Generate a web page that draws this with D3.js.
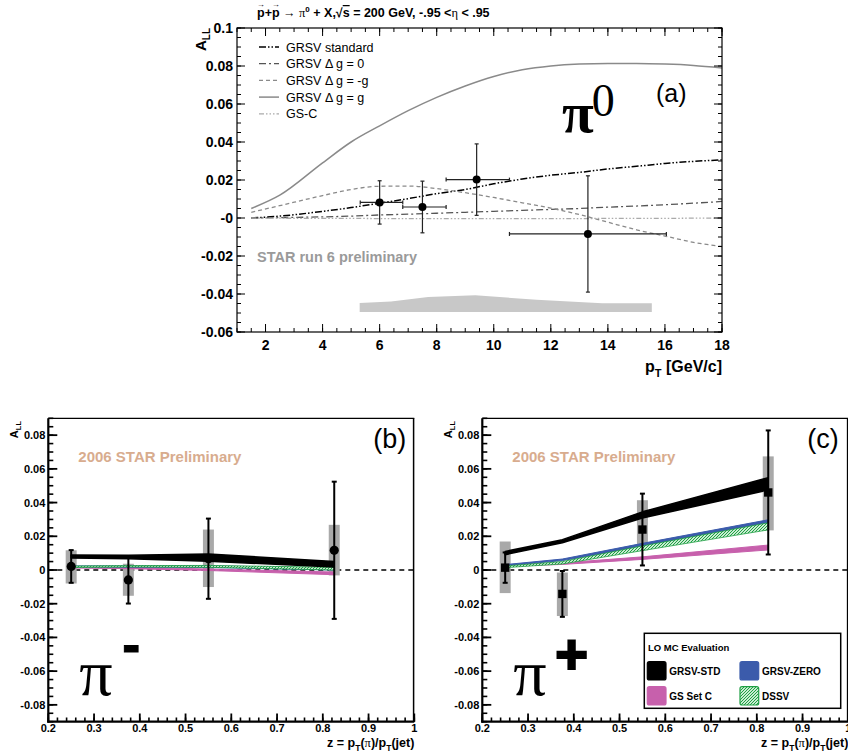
<!DOCTYPE html>
<html>
<head>
<meta charset="utf-8">
<script src="https://cdn.jsdelivr.net/npm/d3@7"></script>
<style>
  html, body { margin: 0; padding: 0; background: #fff; }
  svg { display: block; font-family: "Liberation Sans", Arial, Helvetica, sans-serif; }
</style>
</head>
<body>
<svg id="chart" width="848" height="754"></svg>
<script>
// ============================================================
// PANEL (a) - pi0 A_LL vs pT
// ============================================================
const piZeroPt = [1.5, 2.5, 4, 5, 6, 7, 8, 9, 10, 11, 12, 13, 14, 15, 16, 17, 18];
const grsvStd  = [0.0, 0.001, 0.0035, 0.0055, 0.0078, 0.0102, 0.0128, 0.015, 0.018, 0.0205, 0.0225, 0.024, 0.0258, 0.0272, 0.0287, 0.0298, 0.0306];
const grsvZero = [0.0, 0.0002, 0.0006, 0.001, 0.0016, 0.002, 0.0025, 0.003, 0.0035, 0.004, 0.0045, 0.005, 0.0057, 0.0063, 0.007, 0.0078, 0.0087];
const grsvNeg  = [0.003, 0.0065, 0.0118, 0.015, 0.0167, 0.0168, 0.0155, 0.0133, 0.0108, 0.008, 0.0052, 0.0018, -0.0022, -0.0062, -0.0095, -0.0128, -0.015];
const grsvPos  = [0.005, 0.012, 0.029, 0.040, 0.0485, 0.0565, 0.0635, 0.0695, 0.0745, 0.078, 0.080, 0.081, 0.0813, 0.0813, 0.081, 0.0803, 0.079];
const gsC      = [0.0, -0.0001, -0.0002, -0.0002, -0.0003, -0.0003, -0.0003, -0.0003, -0.0003, -0.0003, -0.0003, -0.0003, -0.0002, -0.0002, -0.0002, -0.0001, -0.0001];

const curveNames = ["GRSV standard", "GRSV \u0394 g = 0", "GRSV \u0394 g = -g", "GRSV \u0394 g = g", "GS-C"];

const piZeroBinPt  = [6.0, 7.5, 9.4, 13.3];
const piZeroBinLo  = [5.32, 6.81, 8.33, 10.55];
const piZeroBinHi  = [6.81, 8.33, 10.55, 16.05];
const piZeroAll    = [0.0082, 0.0058, 0.0202, -0.0084];
const piZeroStat   = [0.0114, 0.0136, 0.0188, 0.0306];

const sysBandPt  = [5.3, 6.4, 7.7, 9.35, 11.5, 13.8, 15.54];
const sysBandTop = [-0.0447, -0.0440, -0.0416, -0.0407, -0.0430, -0.0449, -0.0449];
const sysBandBottom = -0.0495;

const aYTicks  = [-0.06, -0.04, -0.02, 0, 0.02, 0.04, 0.06, 0.08, 0.1];
const aYLabels = ["-0.06", "-0.04", "-0.02", "-0", "0.02", "0.04", "0.06", "0.08", "0.1"];
const aXTicks  = [2, 4, 6, 8, 10, 12, 14, 16, 18];
const aXLabels = ["2", "4", "6", "8", "10", "12", "14", "16", "18"];

// ============================================================
// PANELS (b) pi- and (c) pi+ - A_LL vs z
// ============================================================
const zBins = [0.25, 0.375, 0.55, 0.825];

const minusAll   = [0.0021, -0.0059, 0.0067, 0.0117];
const minusStat  = [0.0097, 0.014, 0.0238, 0.0407];
const minusSysLo = [-0.008, -0.0153, -0.0101, -0.0032];
const minusSysHi = [0.0117, 0.0037, 0.024, 0.0268];
const minusStdLo  = [0.0071, 0.0067, 0.0052, 0.0018];
const minusStdHi  = [0.0089, 0.0088, 0.0095, 0.0050];
const minusZeroLo = [0.0017, 0.0017, 0.0015, 0.0];
const minusZeroHi = [0.0024, 0.0025, 0.0025, 0.0012];
const minusGscLo  = [0.0012, 0.0008, -0.0003, -0.0028];
const minusGscHi  = [0.0019, 0.0016, 0.0006, -0.0012];
const minusDssvLo = [0.0015, 0.0018, 0.0016, 0.0];
const minusDssvHi = [0.0023, 0.0026, 0.0027, 0.0016];

const plusAll   = [0.0014, -0.0142, 0.024, 0.046];
const plusStat  = [0.009, 0.0136, 0.0213, 0.0368];
const plusSysLo = [-0.0137, -0.0273, 0.0117, 0.0235];
const plusSysHi = [0.0169, -0.0015, 0.0414, 0.0674];
const plusStdLo  = [0.0091, 0.0162, 0.0308, 0.0475];
const plusStdHi  = [0.0110, 0.0180, 0.0345, 0.0548];
const plusZeroLo = [0.0025, 0.0056, 0.0136, 0.0262];
const plusZeroHi = [0.0032, 0.0065, 0.0158, 0.0298];
const plusGscLo  = [0.0022, 0.0033, 0.0063, 0.0119];
const plusGscHi  = [0.0030, 0.0042, 0.0078, 0.0148];
const plusDssvLo = [0.0014, 0.0036, 0.0115, 0.0238];
const plusDssvHi = [0.0024, 0.0050, 0.0143, 0.0280];

const zYTicks  = [-0.08, -0.06, -0.04, -0.02, 0, 0.02, 0.04, 0.06, 0.08];
const zYLabels = ["-0.08", "-0.06", "-0.04", "-0.02", "0", "0.02", "0.04", "0.06", "0.08"];
const zXTicks  = [0.2, 0.3, 0.4, 0.5, 0.6, 0.7, 0.8, 0.9, 1.0];
const zXLabels = ["0.2", "0.3", "0.4", "0.5", "0.6", "0.7", "0.8", "0.9", "1"];

const legendNames = ["GRSV-STD", "GRSV-ZERO", "GS Set C", "DSSV"];

// ============================================================
// SETUP
// ============================================================
const svg = d3.select("#chart");
const SERIF = "'Liberation Serif', 'Times New Roman', serif";
const ZCOL = { std: "#000000", zero: "#3b5bab", gsc: "#c760ac", dssv: "#1fa044" };

const defs = svg.append("defs");
const hatch = defs.append("pattern")
    .attr("id", "dssvHatch")
    .attr("patternUnits", "userSpaceOnUse")
    .attr("width", 3).attr("height", 3);
hatch.append("rect").attr("width", 3).attr("height", 3).attr("fill", "#c9ecd1");
hatch.append("path").attr("d", "M0,3 L3,0").attr("stroke", "#1fa044").attr("stroke-width", 1);

// helper: evenly spaced values without float drift
function steps(a, b, s) {
    const n = Math.round((b - a) / s);
    return d3.range(n + 1).map((i) => +(a + i * s).toFixed(6));
}

function tickLines(g, vals, fn, width) {
    g.append("g")
        .selectAll("line")
        .data(vals)
        .enter()
        .append("line")
        .each(function (d) {
            const c = fn(d);
            d3.select(this).attr("x1", c[0]).attr("y1", c[1]).attr("x2", c[2]).attr("y2", c[3]);
        })
        .attr("stroke", "#000")
        .attr("stroke-width", width);
}

// ============================================================
// PANEL (a)
// ============================================================
const xA = d3.scaleLinear().domain([1, 18]).range([237, 722]);
const yA = d3.scaleLinear().domain([-0.06, 0.1]).range([332, 28]);
const gA = svg.append("g");

// title (vector arrows over the two p's)
const title = gA.append("text")
    .attr("x", 257).attr("y", 17)
    .attr("font-size", 12.5).attr("font-weight", "bold");
title.append("tspan").text("p+p ");
title.append("tspan").attr("font-weight", "normal").text("\u2192 ");
title.append("tspan").attr("font-family", SERIF).attr("font-weight", "normal").text("\u03C0");
title.append("tspan").attr("font-size", 8).attr("dy", -5).text("0");
title.append("tspan").attr("dy", 5).text(" + X,\u221A");
title.append("tspan").style("text-decoration", "overline").text("s");
title.append("tspan").text(" = 200 GeV, -.95 <");
title.append("tspan").attr("font-family", SERIF).attr("font-weight", "normal").text("\u03B7");
title.append("tspan").text(" < .95");

[0, 2].forEach((ci) => {
    const s = title.node().getStartPositionOfChar(ci);
    const e = title.node().getEndPositionOfChar(ci);
    gA.append("text")
        .attr("x", (s.x + e.x) / 2).attr("y", 6.5)
        .attr("text-anchor", "middle")
        .attr("font-size", 8).attr("font-weight", "bold")
        .text("\u2192");
});

// systematic band
gA.append("path")
    .datum(sysBandPt.map((p, i) => [p, sysBandTop[i]]))
    .attr("fill", "#c8c8c8")
    .attr("d", d3.area()
        .x((d) => xA(d[0]))
        .y0(yA(sysBandBottom))
        .y1((d) => yA(d[1])));

gA.append("text")
    .attr("x", 257).attr("y", 262)
    .attr("font-size", 14.5).attr("font-weight", "bold")
    .attr("fill", "#9a9a9a")
    .text("STAR run 6 preliminary");

// theory curves
const curveStyles = [
    { vals: grsvStd,  stroke: "#000",    dash: "7,2,1.5,2,1.5,2", w: 1.5 },
    { vals: grsvZero, stroke: "#555",    dash: "7,3,2,3",         w: 1.3 },
    { vals: grsvNeg,  stroke: "#8a8a8a", dash: "4,3",             w: 1.3 },
    { vals: grsvPos,  stroke: "#8a8a8a", dash: null,              w: 1.5 },
    { vals: gsC,      stroke: "#aaaaaa", dash: "5,2,1.5,2,1.5,2,1.5,2", w: 1.3 },
];
const lineA = d3.line()
    .x((d) => xA(d[0]))
    .y((d) => yA(d[1]))
    .curve(d3.curveMonotoneX);
curveStyles.forEach((c) => {
    gA.append("path")
        .datum(piZeroPt.map((p, i) => [p, c.vals[i]]))
        .attr("fill", "none")
        .attr("stroke", c.stroke)
        .attr("stroke-width", c.w)
        .attr("stroke-dasharray", c.dash)
        .attr("d", lineA);
});

// legend
curveStyles.forEach((c, i) => {
    const ly = 47 + i * 16.7;
    gA.append("line")
        .attr("x1", 259).attr("x2", 279).attr("y1", ly).attr("y2", ly)
        .attr("stroke", c.stroke).attr("stroke-width", c.w)
        .attr("stroke-dasharray", c.dash);
    gA.append("text")
        .attr("x", 286).attr("y", ly + 4.5)
        .attr("font-size", 12.5)
        .text(curveNames[i]);
});

// data points
const ptsA = gA.append("g").attr("stroke", "#222").attr("stroke-width", 1.2);
piZeroBinPt.forEach((p, i) => {
    const cx = xA(p), cy = yA(piZeroAll[i]);
    const yt = yA(piZeroAll[i] + piZeroStat[i]), yb = yA(piZeroAll[i] - piZeroStat[i]);
    const xl = xA(piZeroBinLo[i]), xr = xA(piZeroBinHi[i]);
    ptsA.append("line").attr("x1", cx).attr("x2", cx).attr("y1", yt).attr("y2", yb);
    ptsA.append("line").attr("x1", xl).attr("x2", xr).attr("y1", cy).attr("y2", cy);
    ptsA.append("line").attr("x1", cx - 2).attr("x2", cx + 2).attr("y1", yt).attr("y2", yt);
    ptsA.append("line").attr("x1", cx - 2).attr("x2", cx + 2).attr("y1", yb).attr("y2", yb);
    ptsA.append("line").attr("x1", xl).attr("x2", xl).attr("y1", cy - 2).attr("y2", cy + 2);
    ptsA.append("line").attr("x1", xr).attr("x2", xr).attr("y1", cy - 2).attr("y2", cy + 2);
    ptsA.append("circle").attr("cx", cx).attr("cy", cy).attr("r", 4).attr("fill", "#000").attr("stroke", "none");
});

// frame + ticks
gA.append("rect")
    .attr("x", 237).attr("y", 28).attr("width", 485).attr("height", 304)
    .attr("fill", "none").attr("stroke", "#000").attr("stroke-width", 1.2);

const aYMinor = steps(-0.06, 0.1, 0.005);
const aXMinor = steps(1, 18, 0.5);
tickLines(gA, aYMinor, (d) => [237, yA(d), 241, yA(d)], 1);
tickLines(gA, aYTicks, (d) => [237, yA(d), 245, yA(d)], 1);
tickLines(gA, aYMinor, (d) => [722, yA(d), 718, yA(d)], 1);
tickLines(gA, aYTicks, (d) => [722, yA(d), 714, yA(d)], 1);
tickLines(gA, aXMinor, (d) => [xA(d), 332, xA(d), 328], 1);
tickLines(gA, aXTicks, (d) => [xA(d), 332, xA(d), 324], 1);
tickLines(gA, aXMinor, (d) => [xA(d), 28, xA(d), 32], 1);
tickLines(gA, aXTicks, (d) => [xA(d), 28, xA(d), 36], 1);

gA.append("g")
    .selectAll("text")
    .data(aYTicks)
    .enter()
    .append("text")
    .attr("x", 233)
    .attr("y", (d) => yA(d) + 5)
    .attr("text-anchor", "end")
    .attr("font-size", 14).attr("font-weight", "bold")
    .text((d, i) => aYLabels[i]);

gA.append("g")
    .selectAll("text")
    .data(aXTicks)
    .enter()
    .append("text")
    .attr("x", (d) => xA(d))
    .attr("y", 350)
    .attr("text-anchor", "middle")
    .attr("font-size", 14).attr("font-weight", "bold")
    .text((d, i) => aXLabels[i]);

// axis titles
const aTitleY = gA.append("text")
    .attr("transform", "translate(206,28) rotate(-90)")
    .attr("text-anchor", "end")
    .attr("font-size", 15).attr("font-weight", "bold");
aTitleY.append("tspan").text("A");
aTitleY.append("tspan").attr("font-size", 10).attr("dy", 4).text("LL");

const aTitleX = gA.append("text")
    .attr("x", 722).attr("y", 372)
    .attr("text-anchor", "end")
    .attr("font-size", 16).attr("font-weight", "bold");
aTitleX.append("tspan").text("p");
aTitleX.append("tspan").attr("font-size", 11).attr("dy", 5).text("T");
aTitleX.append("tspan").attr("dy", -5).text(" [GeV/c]");

// pi0 + (a)
const piZeroLabel = gA.append("text")
    .attr("x", 562).attr("y", 132)
    .attr("font-family", SERIF).attr("font-weight", "bold")
    .attr("font-size", 58);
piZeroLabel.append("tspan").text("\u03C0");
piZeroLabel.append("tspan").attr("font-weight", "normal").attr("font-size", 46).attr("dy", -16).attr("dx", -2).text("0");

gA.append("text")
    .attr("x", 656).attr("y", 102)
    .attr("font-size", 25)
    .text("(a)");

// ============================================================
// PANELS (b) / (c)
// ============================================================
function drawZPanel(o) {
    const x = d3.scaleLinear().domain([0.2, 1.0]).range([o.left, o.left + 366]);
    const y = d3.scaleLinear().domain([-0.09, 0.09]).range([721.7, 418.3]);
    const g = svg.append("g");

    g.append("text")
        .attr("x", o.left + 30).attr("y", 462)
        .attr("font-size", 15).attr("font-weight", "bold")
        .attr("fill", "#d8ac8e")
        .text("2006 STAR Preliminary");

    g.append("text")
        .attr("x", o.left + 325).attr("y", 448)
        .attr("font-size", 27)
        .text(o.tag);

    // zero line
    g.append("line")
        .attr("x1", x(0.2)).attr("x2", x(1.0)).attr("y1", y(0)).attr("y2", y(0))
        .attr("stroke", "#000").attr("stroke-width", 1.3)
        .attr("stroke-dasharray", "5,4");

    // systematic boxes
    g.append("g")
        .selectAll("rect")
        .data(zBins)
        .enter()
        .append("rect")
        .attr("x", (d) => x(d - 0.012))
        .attr("width", (d) => x(d + 0.012) - x(d - 0.012))
        .attr("y", (d, i) => y(o.sysHi[i]))
        .attr("height", (d, i) => y(o.sysLo[i]) - y(o.sysHi[i]))
        .attr("fill", "#a9a9a9");

    // theory bands
    const area = d3.area()
        .x((d) => x(d[0]))
        .y0((d) => y(d[1]))
        .y1((d) => y(d[2]));
    o.bands.forEach((b) => {
        g.append("path")
            .datum(zBins.map((z, i) => [z, b.lo[i], b.hi[i]]))
            .attr("fill", b.fill)
            .attr("stroke", b.stroke)
            .attr("stroke-width", b.sw)
            .attr("stroke-linejoin", "round")
            .attr("d", area);
    });

    // stat errors + points
    const pts = g.append("g").attr("stroke", "#000").attr("stroke-width", 2);
    zBins.forEach((z, i) => {
        const cx = x(z), cy = y(o.vals[i]);
        const yt = y(o.vals[i] + o.stat[i]), yb = y(o.vals[i] - o.stat[i]);
        pts.append("line").attr("x1", cx).attr("x2", cx).attr("y1", yt).attr("y2", yb);
        pts.append("line").attr("x1", cx - 2.5).attr("x2", cx + 2.5).attr("y1", yt).attr("y2", yt);
        pts.append("line").attr("x1", cx - 2.5).attr("x2", cx + 2.5).attr("y1", yb).attr("y2", yb);
        if (o.marker === "circle") {
            pts.append("circle").attr("cx", cx).attr("cy", cy).attr("r", 4.6).attr("fill", "#000").attr("stroke", "none");
        } else {
            pts.append("rect").attr("x", cx - 4.2).attr("y", cy - 4.2).attr("width", 8.4).attr("height", 8.4)
                .attr("fill", "#000").attr("stroke", "none");
        }
    });

    // frame
    g.append("line").attr("x1", x(0.2)).attr("x2", x(1.0)).attr("y1", 418.3).attr("y2", 418.3)
        .attr("stroke", "#000").attr("stroke-width", 1.3);
    g.append("line").attr("x1", x(1.0) - 0.7).attr("x2", x(1.0) - 0.7).attr("y1", 418.3).attr("y2", 721.7)
        .attr("stroke", "#000").attr("stroke-width", 1.5);
    g.append("line").attr("x1", x(0.2)).attr("x2", x(0.2)).attr("y1", 418.3).attr("y2", 722.7)
        .attr("stroke", "#000").attr("stroke-width", 2.2);
    g.append("line").attr("x1", x(0.2) - 1).attr("x2", x(1.0)).attr("y1", 721.7).attr("y2", 721.7)
        .attr("stroke", "#000").attr("stroke-width", 2.2);

    tickLines(g, steps(-0.09, 0.09, 0.005), (d) => [x(0.2), y(d), x(0.2) + 5, y(d)], 1.6);
    tickLines(g, zYTicks, (d) => [x(0.2), y(d), x(0.2) + 9, y(d)], 1.8);
    tickLines(g, steps(0.2, 1.0, 0.02), (d) => [x(d), 721.7, x(d), 717.5], 1.6);
    tickLines(g, zXTicks, (d) => [x(d), 721.7, x(d), 713.5], 1.8);

    g.append("g")
        .selectAll("text")
        .data(zYTicks)
        .enter()
        .append("text")
        .attr("x", x(0.2) - 3)
        .attr("y", (d) => y(d) + 4)
        .attr("text-anchor", "end")
        .attr("font-size", 11).attr("font-weight", "bold")
        .text((d, i) => zYLabels[i]);

    g.append("g")
        .selectAll("text")
        .data(zXTicks)
        .enter()
        .append("text")
        .attr("x", (d) => x(d))
        .attr("y", 732)
        .attr("text-anchor", "middle")
        .attr("font-size", 11).attr("font-weight", "bold")
        .text((d, i) => zXLabels[i]);

    const ty = g.append("text")
        .attr("transform", `translate(${o.left - 30},421) rotate(-90)`)
        .attr("text-anchor", "end")
        .attr("font-size", 11).attr("font-weight", "bold");
    ty.append("tspan").text("A");
    ty.append("tspan").attr("font-size", 7.5).attr("dy", 3).text("LL");

    const tx = g.append("text")
        .attr("x", x(1.0)).attr("y", 747)
        .attr("text-anchor", "end")
        .attr("font-size", 12.5).attr("font-weight", "bold");
    tx.append("tspan").text("z = p");
    tx.append("tspan").attr("font-size", 8.5).attr("dy", 4).text("T");
    tx.append("tspan").attr("dy", -4).text("(");
    tx.append("tspan").attr("font-family", SERIF).attr("font-weight", "normal").text("\u03C0");
    tx.append("tspan").text(")/p");
    tx.append("tspan").attr("font-size", 8.5).attr("dy", 4).text("T");
    tx.append("tspan").attr("dy", -4).text("(jet)");

    // big pion symbol
    g.append("text")
        .attr("x", o.left + 31).attr("y", 695)
        .attr("font-family", SERIF)
        .attr("font-size", 66)
        .text("\u03C0");
    g.append("text")
        .attr("x", o.left + o.supX).attr("y", o.supY)
        .attr("font-size", o.supSize).attr("font-weight", "bold")
        .attr("stroke", "#000").attr("stroke-width", o.supStroke)
        .text(o.sup);

    return g;
}

drawZPanel({
    left: 48.3, tag: "(b)", marker: "circle",
    vals: minusAll, stat: minusStat, sysLo: minusSysLo, sysHi: minusSysHi,
    sup: "-", supX: 74, supY: 663, supSize: 54, supStroke: 1,
    bands: [
        { lo: minusGscLo,  hi: minusGscHi,  fill: ZCOL.gsc,  stroke: ZCOL.gsc,  sw: 1 },
        { lo: minusZeroLo, hi: minusZeroHi, fill: ZCOL.zero, stroke: ZCOL.zero, sw: 1 },
        { lo: minusDssvLo, hi: minusDssvHi, fill: "url(#dssvHatch)", stroke: ZCOL.dssv, sw: 0.8 },
        { lo: minusStdLo,  hi: minusStdHi,  fill: ZCOL.std,  stroke: ZCOL.std,  sw: 1.5 },
    ],
});

const gC = drawZPanel({
    left: 482.3, tag: "(c)", marker: "square",
    vals: plusAll, stat: plusStat, sysLo: plusSysLo, sysHi: plusSysHi,
    sup: "+", supX: 73, supY: 673, supSize: 56, supStroke: 2.2,
    bands: [
        { lo: plusGscLo,  hi: plusGscHi,  fill: ZCOL.gsc,  stroke: ZCOL.gsc,  sw: 1 },
        { lo: plusZeroLo, hi: plusZeroHi, fill: ZCOL.zero, stroke: ZCOL.zero, sw: 1 },
        { lo: plusDssvLo, hi: plusDssvHi, fill: "url(#dssvHatch)", stroke: ZCOL.dssv, sw: 0.8 },
        { lo: plusStdLo,  hi: plusStdHi,  fill: ZCOL.std,  stroke: ZCOL.std,  sw: 1.5 },
    ],
});

// ============================================================
// LEGEND (c)
// ============================================================
const leg = gC.append("g");
leg.append("rect")
    .attr("x", 644.3).attr("y", 633.3).attr("width", 196.4).attr("height", 75)
    .attr("fill", "#fff").attr("stroke", "#000").attr("stroke-width", 1.5);
leg.append("text")
    .attr("x", 648).attr("y", 650.5)
    .attr("font-size", 9.5).attr("font-weight", "bold")
    .text("LO MC Evaluation");

const legFills = [ZCOL.std, ZCOL.zero, ZCOL.gsc, "url(#dssvHatch)"];
const legStrokes = [ZCOL.std, ZCOL.zero, ZCOL.gsc, ZCOL.dssv];
legendNames.forEach((name, i) => {
    const lx = i % 2 === 0 ? 647.3 : 740;
    const ly = i < 2 ? 661.7 : 686.7;
    leg.append("rect")
        .attr("x", lx).attr("y", ly).attr("width", 18.7).attr("height", 18.3)
        .attr("rx", 2)
        .attr("fill", legFills[i]).attr("stroke", legStrokes[i]).attr("stroke-width", 1.2);
    leg.append("text")
        .attr("x", lx + 22).attr("y", ly + 13.5)
        .attr("font-size", 10).attr("font-weight", "bold")
        .text(name);
});
</script>
</body>
</html>
